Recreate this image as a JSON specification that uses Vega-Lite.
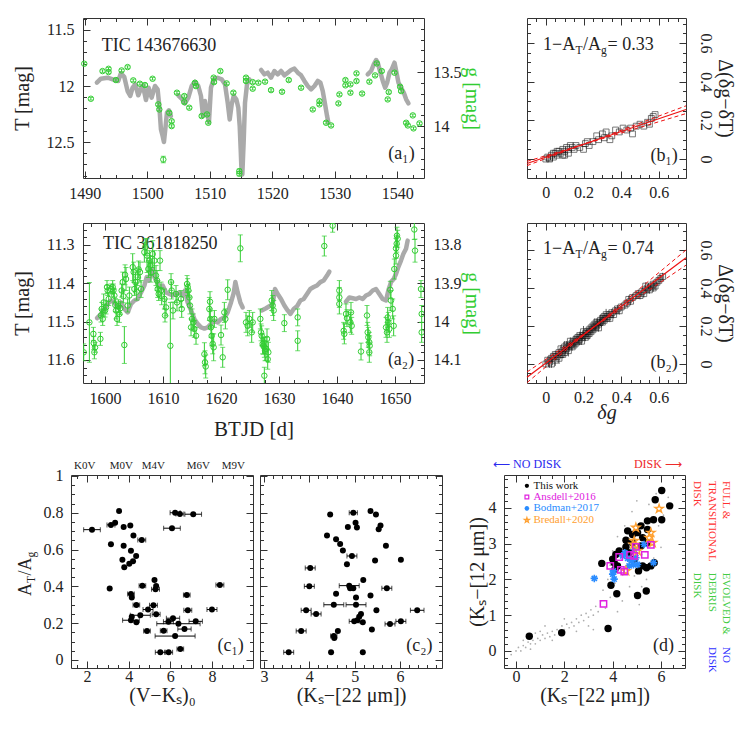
{
"$schema":"https://vega.github.io/schema/vega-lite/v6.json",
"padding":{"left":8,"top":17,"right":0,"bottom":0},
"spacing":1,
"datasets":{
"a1grey":[{"t":1491.92,"T":11.97,"s":1},{"t":1492.56,"T":11.935,"s":1},{"t":1493.63,"T":11.926,"s":1},{"t":1494.7,"T":11.946,"s":1},{"t":1495.34,"T":11.955,"s":1},{"t":1495.77,"T":11.887,"s":1},{"t":1496.3,"T":11.917,"s":1},{"t":1496.84,"T":12.045,"s":1},{"t":1497.27,"T":12.089,"s":1},{"t":1497.64,"T":12.015,"s":1},{"t":1498.07,"T":11.985,"s":1},{"t":1498.55,"T":12.083,"s":1},{"t":1498.97,"T":12.024,"s":1},{"t":1499.29,"T":11.994,"s":1},{"t":1499.78,"T":12.125,"s":1},{"t":1500.2,"T":12.015,"s":1},{"t":1500.69,"T":12.104,"s":1},{"t":1501.22,"T":12.0,"s":1},{"t":1501.65,"T":12.03,"s":1},{"t":1501.92,"T":12.179,"s":1},{"t":1502.18,"T":12.387,"s":1},{"t":1502.45,"T":12.446,"s":1},{"t":1502.66,"T":12.5,"s":1},{"t":1502.93,"T":12.357,"s":1},{"t":1503.14,"T":12.238,"s":1},{"t":1503.46,"T":12.217,"s":1},{"t":1503.78,"T":12.268,"s":1},
{"t":1504.96,"T":12.083,"s":2},{"t":1505.49,"T":12.113,"s":2},{"t":1506.03,"T":12.155,"s":2},{"t":1506.56,"T":12.104,"s":2},{"t":1507.1,"T":12.0,"s":2},{"t":1507.63,"T":11.964,"s":2},{"t":1508.16,"T":12.0,"s":2},{"t":1508.59,"T":12.089,"s":2},{"t":1508.91,"T":12.268,"s":2},{"t":1509.23,"T":12.134,"s":2},{"t":1509.55,"T":12.238,"s":2},{"t":1509.87,"T":12.321,"s":2},{"t":1510.19,"T":12.015,"s":2},{"t":1510.62,"T":11.94,"s":2},{"t":1511.26,"T":11.926,"s":2},{"t":1511.9,"T":11.94,"s":2},{"t":1512.44,"T":11.985,"s":2},{"t":1512.87,"T":12.149,"s":2},{"t":1513.19,"T":12.298,"s":2},{"t":1513.51,"T":12.163,"s":2},{"t":1513.83,"T":12.089,"s":2},{"t":1514.25,"T":12.119,"s":2},{"t":1514.57,"T":12.194,"s":2},{"t":1514.79,"T":12.357,"s":2},{"t":1514.95,"T":12.565,"s":2},{"t":1515.05,"T":12.714,"s":2},{"t":1515.21,"T":12.789,"s":2},{"t":1515.42,"T":12.506,"s":2},{"t":1515.64,"T":12.149,"s":2},{"t":1515.96,"T":11.985,"s":2},{"t":1516.33,"T":11.94,"s":2},
{"t":1518.21,"T":11.857,"s":3},{"t":1518.75,"T":11.896,"s":3},{"t":1519.28,"T":11.881,"s":3},{"t":1519.81,"T":11.926,"s":3},{"t":1520.35,"T":11.866,"s":3},{"t":1520.88,"T":11.896,"s":3},{"t":1521.41,"T":11.866,"s":3},{"t":1521.95,"T":11.905,"s":3},{"t":1522.48,"T":11.881,"s":3},{"t":1523.01,"T":11.857,"s":3},{"t":1523.55,"T":11.845,"s":3},{"t":1524.09,"T":11.881,"s":3},{"t":1524.62,"T":11.905,"s":3},{"t":1525.15,"T":11.955,"s":3},{"t":1525.69,"T":12.0,"s":3},{"t":1526.22,"T":12.03,"s":3},{"t":1526.76,"T":12.0,"s":3},{"t":1527.29,"T":11.955,"s":3},{"t":1527.71,"T":11.97,"s":3},{"t":1528.09,"T":12.045,"s":3},{"t":1528.46,"T":12.163,"s":3},{"t":1528.78,"T":12.268,"s":3},{"t":1528.99,"T":12.327,"s":3},
{"t":1535.29,"T":11.896,"s":4},{"t":1535.83,"T":11.866,"s":4},{"t":1536.26,"T":11.806,"s":4},{"t":1536.63,"T":11.768,"s":4},{"t":1536.89,"T":11.792,"s":4},{"t":1537.32,"T":11.881,"s":4},{"t":1537.7,"T":11.955,"s":4},{"t":1538.08,"T":12.015,"s":4},{"t":1538.4,"T":11.97,"s":4},{"t":1538.77,"T":11.881,"s":4},{"t":1539.14,"T":11.851,"s":4},{"t":1539.58,"T":11.792,"s":4},{"t":1539.9,"T":11.881,"s":4},{"t":1540.21,"T":11.97,"s":4},{"t":1540.64,"T":12.015,"s":4},{"t":1541.07,"T":12.06,"s":4},{"t":1541.44,"T":12.119,"s":4},{"t":1541.81,"T":12.155,"s":4}],
"a1green":[{"t":1489.9,"g":13.423,"e":0.012},{"t":1490.96,"g":13.747,"e":0.012},{"t":1492.83,"g":13.491,"e":0.012},{"t":1493.79,"g":13.47,"e":0.012},{"t":1493.79,"g":13.5,"e":0.012},{"t":1494.97,"g":13.574,"e":0.012},{"t":1495.88,"g":13.485,"e":0.012},{"t":1496.84,"g":13.454,"e":0.012},{"t":1497.75,"g":13.577,"e":0.012},{"t":1498.81,"g":13.608,"e":0.012},{"t":1499.62,"g":13.62,"e":0.012},{"t":1500.84,"g":13.562,"e":0.012},{"t":1501.75,"g":13.799,"e":0.012},{"t":1501.92,"g":13.846,"e":0.012},{"t":1502.56,"g":14.309,"e":0.03},{"t":1503.52,"g":13.877,"e":0.012},{"t":1503.89,"g":13.954,"e":0.012},{"t":1503.89,"g":14.0,"e":0.012},{"t":1504.74,"g":13.691,"e":0.012},{"t":1505.92,"g":13.722,"e":0.012},{"t":1505.92,"g":13.778,"e":0.012},{"t":1506.72,"g":13.83,"e":0.012},{"t":1507.63,"g":13.599,"e":0.012},{"t":1507.79,"g":13.63,"e":0.012},{"t":1508.7,"g":13.907,"e":0.012},{"t":1509.55,"g":13.892,"e":0.012},{"t":1509.76,"g":13.969,"e":0.012},{"t":1510.62,"g":13.552,"e":0.012},{"t":1510.68,"g":13.593,"e":0.012},{"t":1511.69,"g":13.491,"e":0.012},{"t":1512.7,"g":13.605,"e":0.012},{"t":1513.78,"g":13.691,"e":0.012},{"t":1514.73,"g":14.417,"e":0.02},{"t":1514.73,"g":14.44,"e":0.02},{"t":1515.8,"g":13.552,"e":0.012},{"t":1515.8,"g":13.583,"e":0.012},{"t":1516.87,"g":13.593,"e":0.012},{"t":1516.87,"g":13.654,"e":0.012},{"t":1517.78,"g":13.599,"e":0.012},{"t":1518.85,"g":13.589,"e":0.012},{"t":1519.81,"g":13.667,"e":0.012},{"t":1521.57,"g":13.682,"e":0.012},{"t":1522.64,"g":13.574,"e":0.012},{"t":1524.62,"g":13.645,"e":0.012},{"t":1526.49,"g":13.846,"e":0.012},{"t":1527.56,"g":13.769,"e":0.012},{"t":1527.56,"g":13.799,"e":0.012},{"t":1528.62,"g":13.969,"e":0.012},{"t":1529.42,"g":13.994,"e":0.012},{"t":1530.6,"g":13.79,"e":0.012},{"t":1530.76,"g":13.707,"e":0.012},{"t":1531.72,"g":13.574,"e":0.012},{"t":1531.72,"g":13.623,"e":0.012},{"t":1532.52,"g":13.614,"e":0.012},{"t":1532.52,"g":13.691,"e":0.012},{"t":1533.49,"g":13.512,"e":0.012},{"t":1533.49,"g":13.583,"e":0.012},{"t":1534.39,"g":13.699,"e":0.012},{"t":1535.56,"g":13.589,"e":0.012},{"t":1536.47,"g":13.531,"e":0.012},{"t":1536.73,"g":13.42,"e":0.012},{"t":1537.53,"g":13.491,"e":0.012},{"t":1538.49,"g":13.753,"e":0.012},{"t":1538.65,"g":13.685,"e":0.012},{"t":1539.58,"g":13.506,"e":0.012},{"t":1540.48,"g":13.636,"e":0.012},{"t":1540.64,"g":13.676,"e":0.012},{"t":1541.44,"g":13.969,"e":0.012},{"t":1541.71,"g":13.994,"e":0.012},{"t":1542.51,"g":13.901,"e":0.012},{"t":1542.62,"g":14.021,"e":0.012},{"t":1543.58,"g":13.975,"e":0.012}],
"a2grey":[{"t":1598.62,"T":11.491,"s":1},{"t":1599.31,"T":11.48,"s":1},{"t":1599.89,"T":11.467,"s":1},{"t":1600.46,"T":11.454,"s":1},{"t":1601.03,"T":11.445,"s":1},{"t":1601.61,"T":11.45,"s":1},{"t":1602.18,"T":11.463,"s":1},{"t":1602.76,"T":11.45,"s":1},{"t":1603.33,"T":11.467,"s":1},{"t":1603.91,"T":11.476,"s":1},{"t":1604.48,"T":11.454,"s":1},{"t":1605.06,"T":11.445,"s":1},{"t":1605.63,"T":11.441,"s":1},{"t":1606.21,"T":11.424,"s":1},{"t":1606.78,"T":11.406,"s":1},{"t":1607.18,"T":11.384,"s":1},{"t":1607.53,"T":11.393,"s":1},{"t":1607.93,"T":11.371,"s":1},{"t":1608.22,"T":11.363,"s":1},{"t":1608.51,"T":11.384,"s":1},{"t":1608.97,"T":11.397,"s":1},{"t":1609.37,"T":11.41,"s":1},{"t":1609.94,"T":11.406,"s":1},{"t":1610.52,"T":11.424,"s":1},{"t":1611.09,"T":11.428,"s":1},{"t":1611.67,"T":11.432,"s":1},{"t":1612.24,"T":11.428,"s":1},{"t":1612.82,"T":11.424,"s":1},{"t":1613.39,"T":11.432,"s":1},{"t":1613.79,"T":11.419,"s":1},{"t":1614.25,"T":11.45,"s":1},{"t":1614.83,"T":11.471,"s":1},{"t":1615.4,"T":11.493,"s":1},{"t":1615.98,"T":11.506,"s":1},{"t":1616.55,"T":11.515,"s":1},{"t":1617.13,"T":11.518,"s":1},{"t":1617.7,"T":11.515,"s":1},{"t":1618.28,"T":11.506,"s":1},{"t":1618.85,"T":11.498,"s":1},{"t":1619.43,"T":11.502,"s":1},{"t":1620.0,"T":11.493,"s":1},{"t":1620.57,"T":11.489,"s":1},{"t":1621.15,"T":11.476,"s":1},{"t":1621.72,"T":11.45,"s":1},{"t":1622.18,"T":11.426,"s":1},{"t":1622.47,"T":11.397,"s":1},{"t":1622.87,"T":11.424,"s":1},{"t":1623.33,"T":11.45,"s":1},{"t":1623.74,"T":11.463,"s":1},
{"t":1627.01,"T":11.471,"s":2},{"t":1627.76,"T":11.465,"s":2},{"t":1628.33,"T":11.46,"s":2},{"t":1628.91,"T":11.454,"s":2},{"t":1629.31,"T":11.415,"s":2},{"t":1629.77,"T":11.428,"s":2},{"t":1630.34,"T":11.441,"s":2},{"t":1630.92,"T":11.458,"s":2},{"t":1631.49,"T":11.471,"s":2},{"t":1631.95,"T":11.48,"s":2},{"t":1632.53,"T":11.467,"s":2},{"t":1633.1,"T":11.46,"s":2},{"t":1633.67,"T":11.445,"s":2},{"t":1634.25,"T":11.441,"s":2},{"t":1634.83,"T":11.428,"s":2},{"t":1635.4,"T":11.415,"s":2},{"t":1635.98,"T":11.41,"s":2},{"t":1636.55,"T":11.406,"s":2},{"t":1637.13,"T":11.397,"s":2},{"t":1637.7,"T":11.393,"s":2},{"t":1638.28,"T":11.38,"s":2},{"t":1638.68,"T":11.37,"s":2},
{"t":1641.55,"T":11.448,"s":3},{"t":1642.13,"T":11.437,"s":3},{"t":1642.71,"T":11.439,"s":3},{"t":1643.28,"T":11.441,"s":3},{"t":1643.85,"T":11.437,"s":3},{"t":1644.43,"T":11.441,"s":3},{"t":1645.0,"T":11.432,"s":3},{"t":1645.57,"T":11.428,"s":3},{"t":1646.15,"T":11.419,"s":3},{"t":1646.72,"T":11.415,"s":3},{"t":1647.3,"T":11.428,"s":3},{"t":1647.87,"T":11.441,"s":3},{"t":1648.45,"T":11.445,"s":3},{"t":1648.85,"T":11.419,"s":3},{"t":1649.31,"T":11.397,"s":3},{"t":1649.77,"T":11.389,"s":3},{"t":1650.17,"T":11.376,"s":3},{"t":1650.57,"T":11.358,"s":3},{"t":1651.03,"T":11.341,"s":3},{"t":1651.43,"T":11.324,"s":3},{"t":1651.9,"T":11.31,"s":3},{"t":1652.18,"T":11.289,"s":3}],
"a2green":[{"t":1596.32,"g":14.08,"e":0.022},{"t":1597.3,"g":14.002,"e":0.104},{"t":1597.99,"g":14.032,"e":0.017},{"t":1598.05,"g":14.056,"e":0.017},{"t":1598.16,"g":14.08,"e":0.017},{"t":1598.28,"g":14.067,"e":0.013},{"t":1599.2,"g":14.045,"e":0.017},{"t":1599.31,"g":13.984,"e":0.017},{"t":1599.43,"g":13.967,"e":0.017},{"t":1599.6,"g":13.993,"e":0.017},{"t":1599.77,"g":13.95,"e":0.022},{"t":1600.0,"g":13.971,"e":0.017},{"t":1600.17,"g":13.963,"e":0.017},{"t":1600.34,"g":13.91,"e":0.017},{"t":1600.46,"g":13.919,"e":0.013},{"t":1600.63,"g":13.941,"e":0.017},{"t":1601.03,"g":13.915,"e":0.013},{"t":1601.32,"g":13.91,"e":0.017},{"t":1601.44,"g":13.919,"e":0.017},{"t":1601.61,"g":13.932,"e":0.017},{"t":1601.78,"g":13.957,"e":0.017},{"t":1601.9,"g":13.971,"e":0.022},{"t":1602.07,"g":13.993,"e":0.017},{"t":1602.3,"g":13.96,"e":0.017},{"t":1602.47,"g":13.98,"e":0.022},{"t":1602.64,"g":13.965,"e":0.017},{"t":1602.87,"g":13.919,"e":0.017},{"t":1603.05,"g":13.897,"e":0.026},{"t":1603.16,"g":13.934,"e":0.017},{"t":1603.33,"g":14.061,"e":0.048},{"t":1603.45,"g":13.878,"e":0.026},{"t":1603.62,"g":13.889,"e":0.03},{"t":1603.91,"g":13.958,"e":0.017},{"t":1604.2,"g":13.932,"e":0.022},{"t":1604.77,"g":13.858,"e":0.035},{"t":1604.94,"g":13.871,"e":0.026},{"t":1605.06,"g":13.915,"e":0.017},{"t":1605.23,"g":13.897,"e":0.026},{"t":1605.46,"g":13.922,"e":0.022},{"t":1605.63,"g":13.884,"e":0.022},{"t":1605.8,"g":13.864,"e":0.022},{"t":1606.03,"g":13.871,"e":0.026},{"t":1606.21,"g":13.915,"e":0.022},{"t":1606.78,"g":13.819,"e":0.026},{"t":1606.95,"g":13.806,"e":0.022},{"t":1607.24,"g":13.828,"e":0.044},{"t":1607.47,"g":13.863,"e":0.022},{"t":1607.64,"g":13.841,"e":0.026},{"t":1607.82,"g":13.854,"e":0.026},{"t":1607.93,"g":13.871,"e":0.026},{"t":1608.22,"g":13.824,"e":0.035},{"t":1608.51,"g":13.841,"e":0.026},{"t":1608.79,"g":13.88,"e":0.026},{"t":1608.97,"g":13.893,"e":0.026},{"t":1609.08,"g":13.915,"e":0.022},{"t":1609.25,"g":13.928,"e":0.017},{"t":1609.48,"g":13.841,"e":0.026},{"t":1609.65,"g":13.919,"e":0.022},{"t":1609.77,"g":13.934,"e":0.022},{"t":1610.23,"g":13.941,"e":0.026},{"t":1610.34,"g":13.984,"e":0.017},{"t":1610.52,"g":13.963,"e":0.022},{"t":1611.26,"g":14.063,"e":0.113},{"t":1611.38,"g":13.897,"e":0.022},{"t":1611.49,"g":13.919,"e":0.022},{"t":1611.72,"g":13.971,"e":0.022},{"t":1612.24,"g":13.928,"e":0.022},{"t":1612.41,"g":13.95,"e":0.022},{"t":1613.1,"g":13.941,"e":0.022},{"t":1613.22,"g":13.967,"e":0.022},{"t":1614.14,"g":13.902,"e":0.022},{"t":1614.25,"g":13.91,"e":0.022},{"t":1614.37,"g":13.919,"e":0.017},{"t":1614.54,"g":13.937,"e":0.017},{"t":1614.65,"g":13.958,"e":0.022},{"t":1614.83,"g":14.015,"e":0.022},{"t":1615.0,"g":13.993,"e":0.026},{"t":1615.23,"g":14.002,"e":0.022},{"t":1615.4,"g":14.019,"e":0.022},{"t":1615.69,"g":14.037,"e":0.022},{"t":1617.13,"g":14.085,"e":0.03},{"t":1617.24,"g":14.106,"e":0.03},{"t":1617.36,"g":14.117,"e":0.03},{"t":1617.99,"g":13.967,"e":0.03},{"t":1618.1,"g":13.948,"e":0.026},{"t":1618.16,"g":13.993,"e":0.026},{"t":1618.27,"g":14.015,"e":0.026},{"t":1618.39,"g":14.037,"e":0.026},{"t":1618.56,"g":14.058,"e":0.026},{"t":1618.73,"g":14.067,"e":0.035},{"t":1618.85,"g":13.993,"e":0.022},{"t":1620.0,"g":14.035,"e":0.026},{"t":1620.29,"g":14.093,"e":0.026},{"t":1620.57,"g":13.976,"e":0.026},{"t":1620.75,"g":13.993,"e":0.026},{"t":1621.15,"g":13.917,"e":0.026},{"t":1623.33,"g":13.809,"e":0.035},{"t":1624.31,"g":14.002,"e":0.026},{"t":1624.6,"g":14.011,"e":0.026},{"t":1624.88,"g":13.993,"e":0.022},{"t":1625.29,"g":14.028,"e":0.026},{"t":1625.46,"g":14.002,"e":0.026},{"t":1626.78,"g":13.993,"e":0.026},{"t":1626.9,"g":14.028,"e":0.022},{"t":1627.01,"g":14.037,"e":0.026},{"t":1627.18,"g":14.058,"e":0.026},{"t":1627.3,"g":14.063,"e":0.022},{"t":1627.47,"g":14.067,"e":0.026},{"t":1627.59,"g":14.076,"e":0.026},{"t":1627.76,"g":14.071,"e":0.03},{"t":1627.93,"g":14.045,"e":0.026},{"t":1628.05,"g":14.098,"e":0.026},{"t":1628.16,"g":14.08,"e":0.026},{"t":1627.47,"g":14.141,"e":0.022},{"t":1628.74,"g":13.945,"e":0.026},{"t":1628.91,"g":13.958,"e":0.026},{"t":1629.08,"g":13.971,"e":0.026},{"t":1630.92,"g":14.004,"e":0.022},{"t":1633.22,"g":14.05,"e":0.026},{"t":1633.22,"g":13.989,"e":0.022},{"t":1637.81,"g":13.803,"e":0.026},{"t":1639.25,"g":13.75,"e":0.017},{"t":1640.4,"g":13.919,"e":0.026},{"t":1640.4,"g":13.937,"e":0.026},{"t":1640.4,"g":13.954,"e":0.026},{"t":1641.15,"g":14.024,"e":0.022},{"t":1641.26,"g":14.032,"e":0.026},{"t":1641.55,"g":13.98,"e":0.026},{"t":1641.72,"g":13.991,"e":0.022},{"t":1642.3,"g":14.002,"e":0.026},{"t":1642.41,"g":13.976,"e":0.026},{"t":1642.53,"g":14.011,"e":0.022},{"t":1644.14,"g":14.078,"e":0.022},{"t":1645.17,"g":13.984,"e":0.026},{"t":1645.29,"g":14.028,"e":0.026},{"t":1645.4,"g":14.041,"e":0.026},{"t":1645.57,"g":14.054,"e":0.026},{"t":1645.63,"g":14.063,"e":0.026},{"t":1645.57,"g":14.08,"e":0.026},{"t":1648.45,"g":14.015,"e":0.026},{"t":1648.62,"g":14.028,"e":0.026},{"t":1648.74,"g":13.989,"e":0.026},{"t":1648.85,"g":14.002,"e":0.026},{"t":1649.02,"g":14.019,"e":0.022},{"t":1649.19,"g":13.917,"e":0.022},{"t":1649.31,"g":13.945,"e":0.026},{"t":1649.6,"g":13.967,"e":0.026},{"t":1649.77,"g":14.011,"e":0.026},{"t":1649.88,"g":13.863,"e":0.026},{"t":1650.17,"g":13.809,"e":0.026},{"t":1650.29,"g":13.797,"e":0.022},{"t":1650.34,"g":13.776,"e":0.022},{"t":1650.46,"g":13.784,"e":0.022},{"t":1650.17,"g":13.828,"e":0.022},{"t":1653.33,"g":13.76,"e":0.026},{"t":1653.45,"g":13.815,"e":0.03},{"t":1654.48,"g":13.915,"e":0.022},{"t":1654.6,"g":13.98,"e":0.022},{"t":1654.6,"g":14.028,"e":0.026}],
"b1pts":[{"x":0.0,"y":0.0},{"x":0.01,"y":0.01},{"x":0.02,"y":0.005},{"x":0.03,"y":0.02},{"x":0.04,"y":0.01},{"x":0.05,"y":0.03},{"x":0.06,"y":0.02},{"x":0.07,"y":0.04},{"x":0.08,"y":0.03},{"x":0.09,"y":0.05},{"x":0.1,"y":0.04},{"x":0.11,"y":0.06},{"x":0.12,"y":0.05},{"x":0.13,"y":0.07},{"x":0.14,"y":0.06},{"x":0.1,"y":0.02},{"x":0.06,"y":0.04},{"x":0.12,"y":0.03},{"x":0.15,"y":0.05},{"x":0.18,"y":0.06},{"x":0.2,"y":0.05},{"x":0.21,"y":0.08},{"x":0.23,"y":0.07},{"x":0.25,"y":0.09},{"x":0.27,"y":0.12},{"x":0.28,"y":0.1},{"x":0.3,"y":0.13},{"x":0.31,"y":0.11},{"x":0.32,"y":0.14},{"x":0.35,"y":0.12},{"x":0.37,"y":0.15},{"x":0.39,"y":0.14},{"x":0.41,"y":0.16},{"x":0.43,"y":0.15},{"x":0.45,"y":0.16},{"x":0.48,"y":0.17},{"x":0.5,"y":0.18},{"x":0.52,"y":0.17},{"x":0.54,"y":0.19},{"x":0.56,"y":0.21},{"x":0.57,"y":0.22},{"x":0.58,"y":0.23},{"x":0.55,"y":0.18},{"x":0.46,"y":0.13},{"x":0.34,"y":0.1},{"x":0.22,"y":0.09},{"x":0.16,"y":0.07},{"x":0.04,"y":0.03},{"x":0.02,"y":0.0},{"x":0.09,"y":0.02}],
"b1lines":[{"x":-0.1,"y":-0.034,"k":"u"},{"x":0.744,"y":0.275,"k":"u"},{"x":-0.1,"y":-0.012,"k":"l"},{"x":0.744,"y":0.235,"k":"l"}],
"b2pts":[{"x":0.0,"y":0.0,"e":0.02},{"x":0.01,"y":0.02,"e":0.02},{"x":0.02,"y":0.01,"e":0.03},{"x":0.03,"y":0.03,"e":0.02},{"x":0.03,"y":0.0,"e":0.02},{"x":0.04,"y":0.04,"e":0.02},{"x":0.05,"y":0.02,"e":0.03},{"x":0.05,"y":0.05,"e":0.02},{"x":0.06,"y":0.04,"e":0.02},{"x":0.07,"y":0.06,"e":0.02},{"x":0.07,"y":0.03,"e":0.03},{"x":0.08,"y":0.05,"e":0.02},{"x":0.08,"y":0.08,"e":0.02},{"x":0.09,"y":0.07,"e":0.02},{"x":0.09,"y":0.05,"e":0.02},{"x":0.1,"y":0.09,"e":0.03},{"x":0.1,"y":0.06,"e":0.02},{"x":0.11,"y":0.08,"e":0.02},{"x":0.11,"y":0.1,"e":0.02},{"x":0.12,"y":0.09,"e":0.02},{"x":0.12,"y":0.07,"e":0.03},{"x":0.13,"y":0.1,"e":0.02},{"x":0.13,"y":0.12,"e":0.02},{"x":0.14,"y":0.11,"e":0.02},{"x":0.14,"y":0.09,"e":0.02},{"x":0.15,"y":0.12,"e":0.03},{"x":0.15,"y":0.1,"e":0.02},{"x":0.16,"y":0.13,"e":0.02},{"x":0.16,"y":0.11,"e":0.02},{"x":0.17,"y":0.12,"e":0.02},{"x":0.17,"y":0.14,"e":0.02},{"x":0.18,"y":0.13,"e":0.03},{"x":0.18,"y":0.15,"e":0.02},{"x":0.19,"y":0.14,"e":0.02},{"x":0.19,"y":0.12,"e":0.02},{"x":0.2,"y":0.15,"e":0.02},{"x":0.2,"y":0.17,"e":0.03},{"x":0.21,"y":0.16,"e":0.02},{"x":0.21,"y":0.14,"e":0.02},{"x":0.22,"y":0.17,"e":0.02},{"x":0.22,"y":0.15,"e":0.02},{"x":0.23,"y":0.18,"e":0.02},{"x":0.23,"y":0.16,"e":0.03},{"x":0.24,"y":0.19,"e":0.02},{"x":0.24,"y":0.17,"e":0.02},{"x":0.25,"y":0.18,"e":0.02},{"x":0.25,"y":0.2,"e":0.02},{"x":0.26,"y":0.19,"e":0.02},{"x":0.26,"y":0.21,"e":0.03},{"x":0.27,"y":0.2,"e":0.02},{"x":0.27,"y":0.22,"e":0.02},{"x":0.28,"y":0.21,"e":0.02},{"x":0.28,"y":0.19,"e":0.02},{"x":0.29,"y":0.22,"e":0.02},{"x":0.29,"y":0.23,"e":0.03},{"x":0.3,"y":0.22,"e":0.02},{"x":0.3,"y":0.24,"e":0.02},{"x":0.31,"y":0.23,"e":0.02},{"x":0.31,"y":0.25,"e":0.02},{"x":0.32,"y":0.24,"e":0.02},{"x":0.32,"y":0.26,"e":0.03},{"x":0.33,"y":0.25,"e":0.02},{"x":0.34,"y":0.26,"e":0.02},{"x":0.34,"y":0.24,"e":0.02},{"x":0.35,"y":0.27,"e":0.02},{"x":0.36,"y":0.26,"e":0.02},{"x":0.37,"y":0.28,"e":0.02},{"x":0.38,"y":0.29,"e":0.02},{"x":0.39,"y":0.28,"e":0.02},{"x":0.4,"y":0.3,"e":0.02},{"x":0.42,"y":0.31,"e":0.02},{"x":0.43,"y":0.32,"e":0.02},{"x":0.45,"y":0.33,"e":0.02},{"x":0.46,"y":0.35,"e":0.02},{"x":0.48,"y":0.36,"e":0.02},{"x":0.5,"y":0.36,"e":0.02},{"x":0.51,"y":0.38,"e":0.02},{"x":0.52,"y":0.37,"e":0.02},{"x":0.53,"y":0.39,"e":0.02},{"x":0.54,"y":0.4,"e":0.02},{"x":0.55,"y":0.39,"e":0.02},{"x":0.56,"y":0.41,"e":0.02},{"x":0.57,"y":0.42,"e":0.02},{"x":0.58,"y":0.41,"e":0.02},{"x":0.59,"y":0.43,"e":0.02},{"x":0.6,"y":0.44,"e":0.02},{"x":0.61,"y":0.45,"e":0.02},{"x":0.62,"y":0.46,"e":0.02},{"x":0.53,"y":0.41,"e":0.02},{"x":0.57,"y":0.4,"e":0.02},{"x":0.49,"y":0.37,"e":0.02},{"x":0.44,"y":0.34,"e":0.02}],
"b2lines":[{"x":-0.1,"y":-0.098,"k":"u"},{"x":0.744,"y":0.6,"k":"u"},{"x":-0.1,"y":-0.042,"k":"l"},{"x":0.744,"y":0.52,"k":"l"}],
"c1pts":[{"x":2.24,"y":0.708,"e":0.4},{"x":3.54,"y":0.81,"e":0},{"x":3.15,"y":0.734,"e":0.19},{"x":3.35,"y":0.745,"e":0},{"x":3.76,"y":0.723,"e":0},{"x":4.08,"y":0.73,"e":0},{"x":4.23,"y":0.676,"e":0},{"x":4.63,"y":0.652,"e":0.19},{"x":3.15,"y":0.629,"e":0},{"x":3.76,"y":0.621,"e":0},{"x":4.11,"y":0.594,"e":0},{"x":4.36,"y":0.565,"e":0},{"x":3.7,"y":0.545,"e":0},{"x":4.03,"y":0.523,"e":0},{"x":4.21,"y":0.536,"e":0},{"x":3.79,"y":0.504,"e":0},{"x":3.09,"y":0.388,"e":0},{"x":4.66,"y":0.404,"e":0.16},{"x":5.24,"y":0.435,"e":0},{"x":5.29,"y":0.384,"e":0.19},{"x":5.32,"y":0.402,"e":0},{"x":4.11,"y":0.359,"e":0.16},{"x":4.15,"y":0.339,"e":0},{"x":4.37,"y":0.299,"e":0.16},{"x":4.93,"y":0.274,"e":0.24},{"x":5.19,"y":0.297,"e":0.19},{"x":5.32,"y":0.248,"e":0.19},{"x":4.56,"y":0.243,"e":0.48},{"x":4.15,"y":0.235,"e":0},{"x":4.11,"y":0.216,"e":0.4},{"x":4.37,"y":0.205,"e":0},{"x":4.88,"y":0.158,"e":0.16},{"x":5.68,"y":0.159,"e":0.16},{"x":5.91,"y":0.208,"e":0.24},{"x":6.13,"y":0.227,"e":0.32},{"x":6.23,"y":0.13,"e":0.96},{"x":6.39,"y":0.197,"e":1.04},{"x":6.68,"y":0.168,"e":0.32},{"x":6.79,"y":0.353,"e":0.16},{"x":6.84,"y":0.27,"e":0.19},{"x":7.22,"y":0.21,"e":0.32},{"x":5.52,"y":0.042,"e":0.24},{"x":5.92,"y":0.042,"e":0.19},{"x":6.48,"y":0.06,"e":0.16},{"x":6.23,"y":0.8,"e":0.24},{"x":6.46,"y":0.793,"e":0.19},{"x":7.1,"y":0.792,"e":0.4},{"x":6.08,"y":0.716,"e":0.4},{"x":8.0,"y":0.274,"e":0.24},{"x":8.38,"y":0.408,"e":0.19}],
"c2pts":[{"x":3.545,"y":0.042,"e":0.11},{"x":3.82,"y":0.158,"e":0.11},{"x":3.93,"y":0.27,"e":0.11},{"x":4.02,"y":0.5,"e":0.11},{"x":4.0,"y":0.4,"e":0.11},{"x":4.15,"y":0.25,"e":0.11},{"x":4.39,"y":0.676,"e":0},{"x":4.46,"y":0.79,"e":0},{"x":4.48,"y":0.042,"e":0},{"x":4.54,"y":0.13,"e":0.07},{"x":4.55,"y":0.12,"e":0},{"x":4.59,"y":0.656,"e":0},{"x":4.59,"y":0.36,"e":0},{"x":4.54,"y":0.3,"e":0.22},{"x":4.63,"y":0.158,"e":0},{"x":4.68,"y":0.63,"e":0},{"x":4.74,"y":0.595,"e":0},{"x":4.83,"y":0.52,"e":0},{"x":4.85,"y":0.722,"e":0},{"x":4.88,"y":0.404,"e":0.22},{"x":4.9,"y":0.39,"e":0},{"x":4.94,"y":0.565,"e":0.11},{"x":4.97,"y":0.8,"e":0.09},{"x":4.97,"y":0.39,"e":0},{"x":4.99,"y":0.21,"e":0.11},{"x":5.02,"y":0.745,"e":0},{"x":5.03,"y":0.34,"e":0},{"x":5.03,"y":0.3,"e":0.22},{"x":5.05,"y":0.72,"e":0},{"x":5.06,"y":0.216,"e":0},{"x":5.1,"y":0.235,"e":0},{"x":5.14,"y":0.25,"e":0},{"x":5.18,"y":0.205,"e":0},{"x":5.19,"y":0.435,"e":0},{"x":5.18,"y":0.042,"e":0},{"x":5.35,"y":0.81,"e":0},{"x":5.35,"y":0.35,"e":0},{"x":5.38,"y":0.165,"e":0},{"x":5.45,"y":0.54,"e":0},{"x":5.47,"y":0.79,"e":0},{"x":5.48,"y":0.27,"e":0},{"x":5.53,"y":0.71,"e":0},{"x":5.57,"y":0.73,"e":0},{"x":5.69,"y":0.62,"e":0},{"x":5.71,"y":0.39,"e":0.11},{"x":5.78,"y":0.196,"e":0.11},{"x":6.02,"y":0.21,"e":0.11},{"x":6.02,"y":0.545,"e":0},{"x":6.38,"y":0.27,"e":0.15}],
"dgrey":[{"x":-0.2,"y":-0.1},{"x":0.0,"y":0.0},{"x":0.1,"y":0.1},{"x":0.2,"y":0.0},{"x":0.3,"y":0.15},{"x":0.4,"y":0.1},{"x":0.5,"y":0.25},{"x":0.6,"y":0.2},{"x":0.7,"y":0.3},{"x":0.8,"y":0.2},{"x":0.9,"y":0.35},{"x":1.0,"y":0.3},{"x":1.1,"y":0.45},{"x":1.2,"y":0.35},{"x":1.3,"y":0.5},{"x":1.4,"y":0.4},{"x":1.5,"y":0.55},{"x":1.6,"y":0.45},{"x":1.7,"y":0.6},{"x":1.8,"y":0.5},{"x":1.9,"y":0.7},{"x":2.0,"y":0.6},{"x":2.1,"y":0.75},{"x":2.2,"y":0.65},{"x":2.3,"y":0.8},{"x":2.4,"y":0.7},{"x":2.5,"y":0.9},{"x":2.6,"y":0.8},{"x":2.7,"y":1.0},{"x":2.8,"y":0.85},{"x":2.9,"y":1.05},{"x":3.0,"y":0.95},{"x":3.1,"y":1.15},{"x":3.2,"y":1.0},{"x":3.3,"y":1.25},{"x":3.4,"y":1.1},{"x":3.5,"y":1.4},{"x":0.3,"y":0.3},{"x":0.6,"y":0.05},{"x":1.0,"y":0.55},{"x":1.5,"y":0.3},{"x":2.0,"y":0.9},{"x":2.5,"y":0.55},{"x":3.0,"y":0.7},{"x":3.6,"y":1.7},{"x":3.7,"y":1.2},{"x":3.8,"y":2.0},{"x":3.9,"y":1.5},{"x":4.0,"y":2.8},{"x":4.1,"y":1.9},{"x":4.2,"y":3.2},{"x":4.3,"y":2.2},{"x":4.4,"y":1.4},{"x":4.5,"y":3.5},{"x":4.6,"y":2.6},{"x":4.7,"y":1.8},{"x":4.8,"y":3.9},{"x":4.9,"y":2.1},{"x":5.0,"y":3.0},{"x":5.1,"y":1.3},{"x":5.2,"y":2.7},{"x":5.3,"y":3.6},{"x":5.4,"y":2.0},{"x":5.5,"y":4.1},{"x":5.6,"y":3.2},{"x":5.7,"y":2.6},{"x":5.8,"y":4.4},{"x":5.9,"y":3.5},{"x":6.0,"y":2.9},{"x":6.1,"y":3.8},{"x":6.3,"y":4.3},{"x":4.4,"y":2.9},{"x":4.7,"y":3.3},{"x":5.2,"y":1.8},{"x":3.9,"y":2.4},{"x":4.2,"y":1.1},{"x":4.9,"y":1.6},{"x":5.5,"y":2.3},{"x":5.0,"y":4.2},{"x":3.2,"y":0.6},{"x":1.2,"y":0.7},{"x":0.8,"y":0.5}],
"dblack":[{"x":0.55,"y":0.41},{"x":1.89,"y":0.51},{"x":3.81,"y":0.63},{"x":3.55,"y":2.45},{"x":3.93,"y":1.84},{"x":4.17,"y":1.6},{"x":5.03,"y":1.55},{"x":5.39,"y":1.68},{"x":6.03,"y":4.49},{"x":6.36,"y":4.06},{"x":5.76,"y":4.23},{"x":6.03,"y":3.67},{"x":5.69,"y":3.67},{"x":5.44,"y":3.64},{"x":5.17,"y":3.5},{"x":5.44,"y":3.4},{"x":4.62,"y":3.36},{"x":4.82,"y":3.26},{"x":5.03,"y":3.31},{"x":5.24,"y":3.17},{"x":4.55,"y":3.1},{"x":5.44,"y":3.03},{"x":4.82,"y":3.03},{"x":4.55,"y":2.91},{"x":5.17,"y":2.94},{"x":4.27,"y":2.8},{"x":4.68,"y":2.75},{"x":4.13,"y":2.7},{"x":4.0,"y":2.57},{"x":4.06,"y":2.47},{"x":4.2,"y":2.38},{"x":4.1,"y":2.29},{"x":5.24,"y":2.38},{"x":5.4,"y":2.33},{"x":4.89,"y":2.57},{"x":5.58,"y":2.38},{"x":5.72,"y":2.47},{"x":5.07,"y":2.24}],
"dmag":[{"x":3.62,"y":1.32},{"x":3.9,"y":2.38},{"x":4.27,"y":2.63},{"x":4.34,"y":2.27},{"x":4.48,"y":2.22},{"x":4.72,"y":2.69},{"x":4.89,"y":2.66},{"x":5.33,"y":2.69},{"x":5.58,"y":2.97},{"x":4.96,"y":2.91}],
"dblue":[{"x":3.24,"y":2.03},{"x":4.0,"y":2.15},{"x":4.06,"y":2.01},{"x":4.03,"y":2.24},{"x":4.41,"y":2.66},{"x":4.62,"y":2.59},{"x":4.78,"y":2.52},{"x":4.86,"y":2.41},{"x":4.96,"y":2.61},{"x":5.03,"y":2.42},{"x":5.3,"y":2.98},{"x":5.69,"y":2.47},{"x":4.5,"y":2.75},{"x":4.89,"y":2.84},{"x":4.68,"y":2.38}],
"dorange":[{"x":5.92,"y":3.98},{"x":4.96,"y":3.45},{"x":5.58,"y":3.31},{"x":5.51,"y":3.17},{"x":5.65,"y":3.03},{"x":4.89,"y":3.08},{"x":5.03,"y":2.8},{"x":4.55,"y":2.24},{"x":4.86,"y":2.98}]
},
"vconcat":[
{"bounds":"flush","spacing":7,"hconcat":[
  {"width":5,"height":160,"data":{"values":[]},"mark":"point","view":{"stroke":null}},
   {"width":341,"height":160,
    "layer":[
     {"layer":[
       {"data":{"name":"a1grey"},"mark":{"type":"line","color":"#aaaaaa","strokeWidth":4.5,"strokeCap":"round","strokeJoin":"round","clip":true},
        "encoding":{"x":{"field":"t","type":"quantitative","scale":{"domain":[1489.7,1544.3],"nice":false,"zero":false},"axis":{"orient":"bottom","values":[1490,1500,1510,1520,1530,1540],"labelExpr":"datum.value + ''","labelPadding":14,"title":null}},
         "y":{"field":"T","type":"quantitative","scale":{"domain":[11.393,12.821],"reverse":true,"nice":false,"zero":false},"axis":{"orient":"left","values":[11.5,12,12.5],"labelExpr":"datum.value + ''","labelPadding":16,"title":"T [mag]","titlePadding":14}},
         "detail":{"field":"s"}}},
       {"data":{"values":[]},"mark":{"type":"point","opacity":0},
        "encoding":{"x":{"field":"t","type":"quantitative","scale":{"domain":[1489.7,1544.3],"nice":false,"zero":false},"axis":{"orient":"bottom","values":[1490,1492.5,1495,1497.5,1500,1502.5,1505,1507.5,1510,1512.5,1515,1517.5,1520,1522.5,1525,1527.5,1530,1532.5,1535,1537.5,1540,1542.5],"labels":false,"tickSize":-3.5,"title":null}},
         "y":{"field":"T","type":"quantitative","scale":{"domain":[11.393,12.821],"reverse":true,"nice":false,"zero":false},"axis":{"orient":"left","values":[11.4,11.5,11.6,11.7,11.8,11.9,12,12.1,12.2,12.3,12.4,12.5,12.6,12.7,12.8],"labels":false,"tickSize":-3.5,"title":null}}}},
       {"data":{"values":[]},"mark":{"type":"point","opacity":0},
        "encoding":{"x":{"field":"t","type":"quantitative","scale":{"domain":[1489.7,1544.3],"nice":false,"zero":false},"axis":{"orient":"top","values":[1490,1500,1510,1520,1530,1540],"labels":false,"title":null}},
         "y":{"field":"T","type":"quantitative","scale":{"domain":[11.393,12.821],"reverse":true,"nice":false,"zero":false},"axis":null}}},
       {"data":{"values":[]},"mark":{"type":"point","opacity":0},
        "encoding":{"x":{"field":"t","type":"quantitative","scale":{"domain":[1489.7,1544.3],"nice":false,"zero":false},"axis":{"orient":"top","values":[1490,1492.5,1495,1497.5,1500,1502.5,1505,1507.5,1510,1512.5,1515,1517.5,1520,1522.5,1525,1527.5,1530,1532.5,1535,1537.5,1540,1542.5],"labels":false,"tickSize":-3.5,"title":null}},
         "y":{"field":"T","type":"quantitative","scale":{"domain":[11.393,12.821],"reverse":true,"nice":false,"zero":false},"axis":null}}},
       {"data":{"values":[{"t":1492.7,"T":11.645}]},"mark":{"type":"text","text":"TIC 143676630","align":"left","baseline":"middle","fontSize":18,"color":"#222"},
        "encoding":{"x":{"field":"t","type":"quantitative","scale":{"domain":[1489.7,1544.3],"nice":false,"zero":false},"axis":null},"y":{"field":"T","type":"quantitative","scale":{"domain":[11.393,12.821],"reverse":true,"nice":false,"zero":false},"axis":null}}},
       {"data":{"values":[{"t":1477.85,"T":13.169}]},"mark":{"type":"text","text":" ","align":"center","baseline":"middle","fontSize":1},
        "encoding":{"x":{"field":"t","type":"quantitative","scale":{"domain":[1489.7,1544.3],"nice":false,"zero":false},"axis":null},"y":{"field":"T","type":"quantitative","scale":{"domain":[11.393,12.821],"reverse":true,"nice":false,"zero":false},"axis":null}}},
       {"data":{"values":[{"t":1542.8,"T":12.61}]},"mark":{"type":"text","text":"(a₁)","align":"right","baseline":"middle","fontSize":18,"color":"#222"},
        "encoding":{"x":{"field":"t","type":"quantitative","scale":{"domain":[1489.7,1544.3],"nice":false,"zero":false},"axis":null},"y":{"field":"T","type":"quantitative","scale":{"domain":[11.393,12.821],"reverse":true,"nice":false,"zero":false},"axis":null}}}
      ],"resolve":{"axis":{"x":"independent","y":"independent"}}},
     {"layer":[
       {"data":{"name":"a1green"},"mark":{"type":"errorbar","color":"#32cd32","ticks":true,"clip":true},
        "encoding":{"x":{"field":"t","type":"quantitative","scale":{"domain":[1489.7,1544.3],"nice":false,"zero":false},"axis":null},
         "y":{"field":"g","type":"quantitative","scale":{"domain":[13.0,14.48],"reverse":true,"nice":false,"zero":false},"axis":{"orient":"right","values":[13.5,14],"labelExpr":"datum.value + ''","labelPadding":16,"title":"g [mag]","titleColor":"#32cd32","titlePadding":0}},
         "yError":{"field":"e"}}},
       {"data":{"name":"a1green"},"mark":{"type":"point","shape":"circle","filled":false,"color":"#32cd32","size":30,"strokeWidth":1,"opacity":1},
        "encoding":{"x":{"field":"t","type":"quantitative","scale":{"domain":[1489.7,1544.3],"nice":false,"zero":false},"axis":null},
         "y":{"field":"g","type":"quantitative","scale":{"domain":[13.0,14.48],"reverse":true,"nice":false,"zero":false},"axis":{"orient":"right","values":[13.1,13.2,13.3,13.4,13.5,13.6,13.7,13.8,13.9,14,14.1,14.2,14.3,14.4],"labels":false,"tickSize":-3.5,"title":null}}}}
      ],"resolve":{"axis":{"x":"independent","y":"independent"}}}
    ],
    "resolve":{"scale":{"y":"independent"},"axis":{"x":"independent","y":"independent"}}},
  {"width":89,"height":160,"data":{"values":[]},"mark":"point","view":{"stroke":null}},
   {"width":159,"height":160,
    "layer":[
     {"data":{"values":[]},"mark":{"type":"point","opacity":0},
      "encoding":{"x":{"field":"x","type":"quantitative","scale":{"domain":[-0.1,0.744],"nice":false,"zero":false},"axis":{"orient":"top","values":[0,0.2,0.4,0.6],"labels":false,"title":null}},
       "y":{"field":"y","type":"quantitative","scale":{"domain":[-0.098,0.729],"nice":false,"zero":false},"axis":{"orient":"left","values":[0,0.2,0.4,0.6],"labels":false,"title":null}}}},
     {"data":{"values":[]},"mark":{"type":"point","opacity":0},
      "encoding":{"x":{"field":"x","type":"quantitative","scale":{"domain":[-0.1,0.744],"nice":false,"zero":false},"axis":{"orient":"top","values":[-0.05,0,0.05,0.1,0.15,0.2,0.25,0.3,0.35,0.4,0.45,0.5,0.55,0.6,0.65,0.7],"labels":false,"tickSize":-3.5,"title":null}},
       "y":{"field":"y","type":"quantitative","scale":{"domain":[-0.098,0.729],"nice":false,"zero":false},"axis":{"orient":"left","values":[-0.05,0,0.05,0.1,0.15,0.2,0.25,0.3,0.35,0.4,0.45,0.5,0.55,0.6,0.65,0.7],"labels":false,"tickSize":-3.5,"title":null}}}},
     {"data":{"name":"b1pts"},"mark":{"type":"square","filled":false,"color":"#111","size":34,"strokeWidth":0.8},
      "encoding":{"x":{"field":"x","type":"quantitative","scale":{"domain":[-0.1,0.744],"nice":false,"zero":false},"axis":{"orient":"bottom","values":[0,0.2,0.4,0.6],"labelExpr":"datum.value + ''","labelPadding":13,"title":null}},
       "y":{"field":"y","type":"quantitative","scale":{"domain":[-0.098,0.729],"nice":false,"zero":false},"axis":{"orient":"right","values":[0,0.2,0.4,0.6],"labelExpr":"datum.value + ''","labelPadding":18,"labelAngle":90,"labelAlign":"center","labelBaseline":"bottom","title":"Δ(δg−δT)","titlePadding":1}}}},
     {"data":{"name":"b1lines"},"mark":{"type":"line","color":"#ee1111","strokeWidth":1,"strokeDash":[4,3]},
      "encoding":{"x":{"field":"x","type":"quantitative","scale":{"domain":[-0.1,0.744],"nice":false,"zero":false},"axis":{"orient":"bottom","values":[-0.05,0,0.05,0.1,0.15,0.2,0.25,0.3,0.35,0.4,0.45,0.5,0.55,0.6,0.65,0.7],"labels":false,"tickSize":-3.5,"title":null}},
       "y":{"field":"y","type":"quantitative","scale":{"domain":[-0.098,0.729],"nice":false,"zero":false},"axis":{"orient":"right","values":[-0.05,0,0.05,0.1,0.15,0.2,0.25,0.3,0.35,0.4,0.45,0.5,0.55,0.6,0.65,0.7],"labels":false,"tickSize":-3.5,"title":null}},
       "detail":{"field":"k"}}},
     {"data":{"values":[{"x":-0.1,"y":-0.023},{"x":0.744,"y":0.256}]},"mark":{"type":"line","color":"#ee1111","strokeWidth":1.2},
      "encoding":{"x":{"field":"x","type":"quantitative","scale":{"domain":[-0.1,0.744],"nice":false,"zero":false},"axis":null},"y":{"field":"y","type":"quantitative","scale":{"domain":[-0.098,0.729],"nice":false,"zero":false},"axis":null}}},
     {"data":{"values":[{"x":-0.015,"y":0.5625}]},"layer":[
       {"mark":{"type":"text","text":"1−A","align":"left","baseline":"alphabetic","fontSize":18,"color":"#222"}},
       {"mark":{"type":"text","text":"T","align":"left","baseline":"alphabetic","fontSize":11.5,"dx":32.5,"dy":4,"color":"#222"}},
       {"mark":{"type":"text","text":"/A","align":"left","baseline":"alphabetic","fontSize":18,"dx":40,"color":"#222"}},
       {"mark":{"type":"text","text":"g","align":"left","baseline":"alphabetic","fontSize":11.5,"dx":58,"dy":4,"color":"#222"}},
       {"mark":{"type":"text","text":"=  0.33","align":"left","baseline":"alphabetic","fontSize":18,"dx":64.5,"color":"#222"}}],
      "encoding":{"x":{"field":"x","type":"quantitative","scale":{"domain":[-0.1,0.744],"nice":false,"zero":false},"axis":null},"y":{"field":"y","type":"quantitative","scale":{"domain":[-0.098,0.729],"nice":false,"zero":false},"axis":null}}},
     {"data":{"values":[{"x":0.70,"y":0.016}]},"mark":{"type":"text","text":"(b₁)","align":"right","baseline":"middle","fontSize":18,"color":"#222"},
      "encoding":{"x":{"field":"x","type":"quantitative","scale":{"domain":[-0.1,0.744],"nice":false,"zero":false},"axis":null},"y":{"field":"y","type":"quantitative","scale":{"domain":[-0.098,0.729],"nice":false,"zero":false},"axis":null}}}
    ],
    "resolve":{"axis":{"x":"independent","y":"independent"}}}
]},
{"bounds":"flush","spacing":7,"hconcat":[
  {"width":5,"height":160,"data":{"values":[]},"mark":"point","view":{"stroke":null}},
   {"width":341,"height":160,
    "layer":[
     {"layer":[
       {"data":{"name":"a2grey"},"mark":{"type":"line","color":"#aaaaaa","strokeWidth":4.5,"strokeCap":"round","strokeJoin":"round","clip":true},
        "encoding":{"x":{"field":"t","type":"quantitative","scale":{"domain":[1596.2,1655.0],"nice":false,"zero":false},"axis":{"orient":"bottom","values":[1600,1610,1620,1630,1640,1650],"labelExpr":"datum.value + ''","labelPadding":14,"title":"BTJD [d]","titleFontSize":21,"titlePadding":12}},
         "y":{"field":"T","type":"quantitative","scale":{"domain":[11.243,11.66],"reverse":true,"nice":false,"zero":false},"axis":{"orient":"left","values":[11.3,11.4,11.5,11.6],"labelExpr":"datum.value + ''","labelPadding":16,"title":"T [mag]","titlePadding":14}},
         "detail":{"field":"s"}}},
       {"data":{"values":[]},"mark":{"type":"point","opacity":0},
        "encoding":{"x":{"field":"t","type":"quantitative","scale":{"domain":[1596.2,1655.0],"nice":false,"zero":false},"axis":{"orient":"bottom","values":[1597.5,1600,1602.5,1605,1607.5,1610,1612.5,1615,1617.5,1620,1622.5,1625,1627.5,1630,1632.5,1635,1637.5,1640,1642.5,1645,1647.5,1650,1652.5],"labels":false,"tickSize":-3.5,"title":null}},
         "y":{"field":"T","type":"quantitative","scale":{"domain":[11.243,11.66],"reverse":true,"nice":false,"zero":false},"axis":{"orient":"left","values":[11.26,11.28,11.3,11.32,11.34,11.36,11.38,11.4,11.42,11.44,11.46,11.48,11.5,11.52,11.54,11.56,11.58,11.6,11.62,11.64],"labels":false,"tickSize":-3.5,"title":null}}}},
       {"data":{"values":[]},"mark":{"type":"point","opacity":0},
        "encoding":{"x":{"field":"t","type":"quantitative","scale":{"domain":[1596.2,1655.0],"nice":false,"zero":false},"axis":{"orient":"top","values":[1600,1610,1620,1630,1640,1650],"labels":false,"title":null}},
         "y":{"field":"T","type":"quantitative","scale":{"domain":[11.243,11.66],"reverse":true,"nice":false,"zero":false},"axis":null}}},
       {"data":{"values":[]},"mark":{"type":"point","opacity":0},
        "encoding":{"x":{"field":"t","type":"quantitative","scale":{"domain":[1596.2,1655.0],"nice":false,"zero":false},"axis":{"orient":"top","values":[1597.5,1600,1602.5,1605,1607.5,1610,1612.5,1615,1617.5,1620,1622.5,1625,1627.5,1630,1632.5,1635,1637.5,1640,1642.5,1645,1647.5,1650,1652.5],"labels":false,"tickSize":-3.5,"title":null}},
         "y":{"field":"T","type":"quantitative","scale":{"domain":[11.243,11.66],"reverse":true,"nice":false,"zero":false},"axis":null}}},
       {"data":{"values":[{"t":1599.66,"T":11.297}]},"mark":{"type":"text","text":"TIC 361818250","align":"left","baseline":"middle","fontSize":18,"color":"#222"},
        "encoding":{"x":{"field":"t","type":"quantitative","scale":{"domain":[1596.2,1655.0],"nice":false,"zero":false},"axis":null},"y":{"field":"T","type":"quantitative","scale":{"domain":[11.243,11.66],"reverse":true,"nice":false,"zero":false},"axis":null}}},
       {"data":{"values":[{"t":1583.44,"T":11.2378},{"t":1583.44,"T":11.8268}]},"mark":{"type":"text","text":" ","align":"center","baseline":"middle","fontSize":1},
        "encoding":{"x":{"field":"t","type":"quantitative","scale":{"domain":[1596.2,1655.0],"nice":false,"zero":false},"axis":null},"y":{"field":"T","type":"quantitative","scale":{"domain":[11.243,11.66],"reverse":true,"nice":false,"zero":false},"axis":null}}},
       {"data":{"values":[{"t":1653.3,"T":11.6}]},"mark":{"type":"text","text":"(a₂)","align":"right","baseline":"middle","fontSize":18,"color":"#222"},
        "encoding":{"x":{"field":"t","type":"quantitative","scale":{"domain":[1596.2,1655.0],"nice":false,"zero":false},"axis":null},"y":{"field":"T","type":"quantitative","scale":{"domain":[11.243,11.66],"reverse":true,"nice":false,"zero":false},"axis":null}}}
      ],"resolve":{"axis":{"x":"independent","y":"independent"}}},
     {"layer":[
       {"data":{"name":"a2green"},"mark":{"type":"errorbar","color":"#32cd32","ticks":true,"clip":true},
        "encoding":{"x":{"field":"t","type":"quantitative","scale":{"domain":[1596.2,1655.0],"nice":false,"zero":false},"axis":null},
         "y":{"field":"g","type":"quantitative","scale":{"domain":[13.743,14.16],"reverse":true,"nice":false,"zero":false},"axis":{"orient":"right","values":[13.8,13.9,14,14.1],"labelExpr":"datum.value + ''","labelPadding":16,"title":"g [mag]","titleColor":"#32cd32","titlePadding":0}},
         "yError":{"field":"e"}}},
       {"data":{"name":"a2green"},"mark":{"type":"point","shape":"circle","filled":false,"color":"#32cd32","size":30,"strokeWidth":1,"opacity":1,"clip":true},
        "encoding":{"x":{"field":"t","type":"quantitative","scale":{"domain":[1596.2,1655.0],"nice":false,"zero":false},"axis":null},
         "y":{"field":"g","type":"quantitative","scale":{"domain":[13.743,14.16],"reverse":true,"nice":false,"zero":false},"axis":{"orient":"right","values":[13.76,13.78,13.8,13.82,13.84,13.86,13.88,13.9,13.92,13.94,13.96,13.98,14,14.02,14.04,14.06,14.08,14.1,14.12,14.14],"labels":false,"tickSize":-3.5,"title":null}}}}
      ],"resolve":{"axis":{"x":"independent","y":"independent"}}}
    ],
    "resolve":{"scale":{"y":"independent"},"axis":{"x":"independent","y":"independent"}}},
  {"width":89,"height":160,"data":{"values":[]},"mark":"point","view":{"stroke":null}},
   {"width":159,"height":160,
    "layer":[
     {"data":{"values":[]},"mark":{"type":"point","opacity":0},
      "encoding":{"x":{"field":"x","type":"quantitative","scale":{"domain":[-0.1,0.744],"nice":false,"zero":false},"axis":{"orient":"top","values":[0,0.2,0.4,0.6],"labels":false,"title":null}},
       "y":{"field":"y","type":"quantitative","scale":{"domain":[-0.1,0.742],"nice":false,"zero":false},"axis":{"orient":"left","values":[0,0.2,0.4,0.6],"labels":false,"title":null}}}},
     {"data":{"values":[]},"mark":{"type":"point","opacity":0},
      "encoding":{"x":{"field":"x","type":"quantitative","scale":{"domain":[-0.1,0.744],"nice":false,"zero":false},"axis":{"orient":"top","values":[-0.05,0,0.05,0.1,0.15,0.2,0.25,0.3,0.35,0.4,0.45,0.5,0.55,0.6,0.65,0.7],"labels":false,"tickSize":-3.5,"title":null}},
       "y":{"field":"y","type":"quantitative","scale":{"domain":[-0.1,0.742],"nice":false,"zero":false},"axis":{"orient":"left","values":[-0.05,0,0.05,0.1,0.15,0.2,0.25,0.3,0.35,0.4,0.45,0.5,0.55,0.6,0.65,0.7],"labels":false,"tickSize":-3.5,"title":null}}}},
     {"data":{"name":"b2pts"},"mark":{"type":"errorbar","color":"#333","thickness":0.8},
      "encoding":{"x":{"field":"x","type":"quantitative","scale":{"domain":[-0.1,0.744],"nice":false,"zero":false},"axis":{"orient":"bottom","values":[-0.05,0,0.05,0.1,0.15,0.2,0.25,0.3,0.35,0.4,0.45,0.5,0.55,0.6,0.65,0.7],"labels":false,"tickSize":-3.5,"title":null}},
       "y":{"field":"y","type":"quantitative","scale":{"domain":[-0.1,0.742],"nice":false,"zero":false},"axis":{"orient":"right","values":[-0.05,0,0.05,0.1,0.15,0.2,0.25,0.3,0.35,0.4,0.45,0.5,0.55,0.6,0.65,0.7],"labels":false,"tickSize":-3.5,"title":null}},
       "yError":{"field":"e"}}},
     {"data":{"name":"b2pts"},"mark":{"type":"square","filled":false,"color":"#111","size":34,"strokeWidth":0.8},
      "encoding":{"x":{"field":"x","type":"quantitative","scale":{"domain":[-0.1,0.744],"nice":false,"zero":false},"axis":{"orient":"bottom","values":[0,0.2,0.4,0.6],"labelExpr":"datum.value + ''","labelPadding":13,"title":"δg","titleFontStyle":"italic","titlePadding":-3}},
       "y":{"field":"y","type":"quantitative","scale":{"domain":[-0.1,0.742],"nice":false,"zero":false},"axis":{"orient":"right","values":[0,0.2,0.4,0.6],"labelExpr":"datum.value + ''","labelPadding":18,"labelAngle":90,"labelAlign":"center","labelBaseline":"bottom","title":"Δ(δg−δT)","titlePadding":1}}}},
     {"data":{"name":"b2lines"},"mark":{"type":"line","color":"#ee1111","strokeWidth":1,"strokeDash":[4,3]},
      "encoding":{"x":{"field":"x","type":"quantitative","scale":{"domain":[-0.1,0.744],"nice":false,"zero":false},"axis":null},
       "y":{"field":"y","type":"quantitative","scale":{"domain":[-0.1,0.742],"nice":false,"zero":false},"axis":null},
       "detail":{"field":"k"}}},
     {"data":{"values":[{"x":-0.1,"y":-0.0695},{"x":0.744,"y":0.559}]},"mark":{"type":"line","color":"#ee1111","strokeWidth":1.2},
      "encoding":{"x":{"field":"x","type":"quantitative","scale":{"domain":[-0.1,0.744],"nice":false,"zero":false},"axis":null},"y":{"field":"y","type":"quantitative","scale":{"domain":[-0.1,0.742],"nice":false,"zero":false},"axis":null}}},
     {"data":{"values":[{"x":-0.015,"y":0.579}]},"layer":[
       {"mark":{"type":"text","text":"1−A","align":"left","baseline":"alphabetic","fontSize":18,"color":"#222"}},
       {"mark":{"type":"text","text":"T","align":"left","baseline":"alphabetic","fontSize":11.5,"dx":32.5,"dy":4,"color":"#222"}},
       {"mark":{"type":"text","text":"/A","align":"left","baseline":"alphabetic","fontSize":18,"dx":40,"color":"#222"}},
       {"mark":{"type":"text","text":"g","align":"left","baseline":"alphabetic","fontSize":11.5,"dx":58,"dy":4,"color":"#222"}},
       {"mark":{"type":"text","text":"=  0.74","align":"left","baseline":"alphabetic","fontSize":18,"dx":64.5,"color":"#222"}}],
      "encoding":{"x":{"field":"x","type":"quantitative","scale":{"domain":[-0.1,0.744],"nice":false,"zero":false},"axis":null},"y":{"field":"y","type":"quantitative","scale":{"domain":[-0.1,0.742],"nice":false,"zero":false},"axis":null}}},
     {"data":{"values":[{"x":0.70,"y":0.007}]},"mark":{"type":"text","text":"(b₂)","align":"right","baseline":"middle","fontSize":18,"color":"#222"},
      "encoding":{"x":{"field":"x","type":"quantitative","scale":{"domain":[-0.1,0.744],"nice":false,"zero":false},"axis":null},"y":{"field":"y","type":"quantitative","scale":{"domain":[-0.1,0.742],"nice":false,"zero":false},"axis":null}}}
    ],
    "resolve":{"axis":{"x":"independent","y":"independent"}}}
]},
{"bounds":"flush","spacing":7,"hconcat":[
  {"width":182,"height":193,
   "layer":[
    {"data":{"values":[]},"mark":{"type":"point","opacity":0},
     "encoding":{"x":{"field":"x","type":"quantitative","scale":{"domain":[1.232,9.97],"nice":false,"zero":false},"axis":{"orient":"top","values":[2,4,6,8],"labels":false,"title":null}},
      "y":{"field":"y","type":"quantitative","scale":{"domain":[-0.0435,1.005],"nice":false,"zero":false},"axis":{"orient":"right","values":[0,0.2,0.4,0.6,0.8,1],"labels":false,"title":null}}}},
    {"data":{"values":[]},"mark":{"type":"point","opacity":0},
     "encoding":{"x":{"field":"x","type":"quantitative","scale":{"domain":[1.232,9.97],"nice":false,"zero":false},"axis":{"orient":"top","values":[1.5,2,2.5,3,3.5,4,4.5,5,5.5,6,6.5,7,7.5,8,8.5,9,9.5],"labels":false,"tickSize":-3.5,"title":null}},
      "y":{"field":"y","type":"quantitative","scale":{"domain":[-0.0435,1.005],"nice":false,"zero":false},"axis":{"orient":"right","values":[0,0.05,0.1,0.15,0.2,0.25,0.3,0.35,0.4,0.45,0.5,0.55,0.6,0.65,0.7,0.75,0.8,0.85,0.9,0.95,1],"labels":false,"tickSize":-3.5,"title":null}}}},
    {"data":{"values":[]},"mark":{"type":"point","opacity":0},
     "encoding":{"x":{"field":"x","type":"quantitative","scale":{"domain":[1.232,9.97],"nice":false,"zero":false},"axis":{"orient":"top","values":[1.87,3.63,5.16,7.32,9.0],"labelExpr":"datum.value < 2.5 ? 'K0V' : datum.value < 4 ? 'M0V' : datum.value < 6 ? 'M4V' : datum.value < 8 ? 'M6V' : 'M9V'","ticks":false,"tickSize":0,"labelPadding":5,"labelFontSize":11,"title":null}},
      "y":{"field":"y","type":"quantitative","scale":{"domain":[-0.0435,1.005],"nice":false,"zero":false},"axis":null}}},
    {"data":{"name":"c1pts"},"transform":[{"filter":"datum.e > 0"}],"mark":{"type":"errorbar","color":"#000","ticks":true,"thickness":1},
     "encoding":{"x":{"field":"x","type":"quantitative","scale":{"domain":[1.232,9.97],"nice":false,"zero":false},"axis":{"orient":"bottom","values":[1.5,2,2.5,3,3.5,4,4.5,5,5.5,6,6.5,7,7.5,8,8.5,9,9.5],"labels":false,"tickSize":-3.5,"title":null}},
      "xError":{"field":"e"},
      "y":{"field":"y","type":"quantitative","scale":{"domain":[-0.0435,1.005],"nice":false,"zero":false},"axis":{"orient":"left","values":[0,0.05,0.1,0.15,0.2,0.25,0.3,0.35,0.4,0.45,0.5,0.55,0.6,0.65,0.7,0.75,0.8,0.85,0.9,0.95,1],"labels":false,"tickSize":-3.5,"title":null}}}},
    {"data":{"name":"c1pts"},"mark":{"type":"circle","color":"#000","size":36,"opacity":1},
     "encoding":{"x":{"field":"x","type":"quantitative","scale":{"domain":[1.232,9.97],"nice":false,"zero":false},"axis":{"orient":"bottom","values":[2,4,6,8],"labelExpr":"datum.value + ''","labelPadding":7,"title":"(V−Kₛ)₀","titlePadding":1}},
      "y":{"field":"y","type":"quantitative","scale":{"domain":[-0.0435,1.005],"nice":false,"zero":false},"axis":{"orient":"left","values":[0,0.2,0.4,0.6,0.8,1],"labelExpr":"datum.value + ''","labelPadding":15,"title":null}}}},
    {"data":{"values":[{"x":-0.69,"y":0.348}]},"layer":[
      {"mark":{"type":"text","text":"A","angle":270,"align":"left","baseline":"alphabetic","fontSize":18,"color":"#222"}},
      {"mark":{"type":"text","text":"T","angle":270,"align":"left","baseline":"alphabetic","fontSize":11.5,"dx":13,"dy":4,"color":"#222"}},
      {"mark":{"type":"text","text":"/A","angle":270,"align":"left","baseline":"alphabetic","fontSize":18,"dx":20.5,"color":"#222"}},
      {"mark":{"type":"text","text":"g","angle":270,"align":"left","baseline":"alphabetic","fontSize":11.5,"dx":38.5,"dy":4,"color":"#222"}}],
     "encoding":{"x":{"field":"x","type":"quantitative","scale":{"domain":[1.232,9.97],"nice":false,"zero":false},"axis":null},"y":{"field":"y","type":"quantitative","scale":{"domain":[-0.0435,1.005],"nice":false,"zero":false},"axis":null}}},
    {"data":{"values":[{"x":-1.696,"y":1.1354}]},"mark":{"type":"text","text":" ","align":"center","baseline":"middle","fontSize":1},
     "encoding":{"x":{"field":"x","type":"quantitative","scale":{"domain":[1.232,9.97],"nice":false,"zero":false},"axis":null},"y":{"field":"y","type":"quantitative","scale":{"domain":[-0.0435,1.005],"nice":false,"zero":false},"axis":null}}},
    {"data":{"values":[{"x":9.53,"y":0.076}]},"mark":{"type":"text","text":"(c₁)","align":"right","baseline":"middle","fontSize":18,"color":"#222"},
     "encoding":{"x":{"field":"x","type":"quantitative","scale":{"domain":[1.232,9.97],"nice":false,"zero":false},"axis":null},"y":{"field":"y","type":"quantitative","scale":{"domain":[-0.0435,1.005],"nice":false,"zero":false},"axis":null}}}
   ],
   "resolve":{"axis":{"x":"independent","y":"independent"}}},
  {"width":182,"height":193,
   "layer":[
    {"data":{"values":[]},"mark":{"type":"point","opacity":0},
     "encoding":{"x":{"field":"x","type":"quantitative","scale":{"domain":[2.912,6.927],"nice":false,"zero":false},"axis":{"orient":"top","values":[3,4,5,6],"labels":false,"title":null}},
      "y":{"field":"y","type":"quantitative","scale":{"domain":[-0.0435,1.005],"nice":false,"zero":false},"axis":{"orient":"right","values":[0,0.2,0.4,0.6,0.8,1],"labels":false,"title":null}}}},
    {"data":{"values":[]},"mark":{"type":"point","opacity":0},
     "encoding":{"x":{"field":"x","type":"quantitative","scale":{"domain":[2.912,6.927],"nice":false,"zero":false},"axis":{"orient":"top","values":[3,3.2,3.4,3.6,3.8,4,4.2,4.4,4.6,4.8,5,5.2,5.4,5.6,5.8,6,6.2,6.4,6.6,6.8],"labels":false,"tickSize":-3.5,"title":null}},
      "y":{"field":"y","type":"quantitative","scale":{"domain":[-0.0435,1.005],"nice":false,"zero":false},"axis":{"orient":"right","values":[0,0.05,0.1,0.15,0.2,0.25,0.3,0.35,0.4,0.45,0.5,0.55,0.6,0.65,0.7,0.75,0.8,0.85,0.9,0.95,1],"labels":false,"tickSize":-3.5,"title":null}}}},
    {"data":{"name":"c2pts"},"transform":[{"filter":"datum.e > 0"}],"mark":{"type":"errorbar","color":"#000","ticks":true,"thickness":1},
     "encoding":{"x":{"field":"x","type":"quantitative","scale":{"domain":[2.912,6.927],"nice":false,"zero":false},"axis":{"orient":"bottom","values":[3,3.2,3.4,3.6,3.8,4,4.2,4.4,4.6,4.8,5,5.2,5.4,5.6,5.8,6,6.2,6.4,6.6,6.8],"labels":false,"tickSize":-3.5,"title":null}},
      "xError":{"field":"e"},
      "y":{"field":"y","type":"quantitative","scale":{"domain":[-0.0435,1.005],"nice":false,"zero":false},"axis":{"orient":"left","values":[0,0.05,0.1,0.15,0.2,0.25,0.3,0.35,0.4,0.45,0.5,0.55,0.6,0.65,0.7,0.75,0.8,0.85,0.9,0.95,1],"labels":false,"tickSize":-3.5,"title":null}}}},
    {"data":{"name":"c2pts"},"mark":{"type":"circle","color":"#000","size":36,"opacity":1},
     "encoding":{"x":{"field":"x","type":"quantitative","scale":{"domain":[2.912,6.927],"nice":false,"zero":false},"axis":{"orient":"bottom","values":[3,4,5,6],"labelExpr":"datum.value + ''","labelPadding":7,"title":"(Kₛ−[22 μm])","titlePadding":1}},
      "y":{"field":"y","type":"quantitative","scale":{"domain":[-0.0435,1.005],"nice":false,"zero":false},"axis":{"orient":"left","values":[0,0.2,0.4,0.6,0.8,1],"labels":false,"title":null}}}},
    {"data":{"values":[{"x":6.72,"y":0.076}]},"mark":{"type":"text","text":"(c₂)","align":"right","baseline":"middle","fontSize":18,"color":"#222"},
     "encoding":{"x":{"field":"x","type":"quantitative","scale":{"domain":[2.912,6.927],"nice":false,"zero":false},"axis":null},"y":{"field":"y","type":"quantitative","scale":{"domain":[-0.0435,1.005],"nice":false,"zero":false},"axis":null}}}
   ],
   "resolve":{"axis":{"x":"independent","y":"independent"}}},
  {"width":48,"height":193,"data":{"values":[]},"mark":"point","view":{"stroke":null}},
 {"width":181,"height":193,
  "encoding":{"x":{"field":"x","type":"quantitative","scale":{"domain":[-0.497,6.993],"nice":false,"zero":false},"axis":null},"y":{"field":"y","type":"quantitative","scale":{"domain":[-0.476,4.923],"nice":false,"zero":false},"axis":null}},
  "layer":[
   {"data":{"name":"dgrey"},"mark":{"type":"circle","color":"#999","size":3,"opacity":0.8},
    "encoding":{"x":{"field":"x","type":"quantitative","scale":{"domain":[-0.497,6.993],"nice":false,"zero":false},"axis":{"orient":"bottom","values":[0,2,4,6],"labelExpr":"datum.value + ''","labelPadding":7,"title":"(Kₛ−[22 μm])","titlePadding":1}},
     "y":{"field":"y","type":"quantitative","scale":{"domain":[-0.476,4.923],"nice":false,"zero":false},"axis":{"orient":"left","values":[0,1,2,3,4],"labelExpr":"datum.value + ''","labelPadding":15,"title":"(Kₛ−[12 μm])","titlePadding":1}}}},
   {"data":{"name":"dblack"},"mark":{"type":"circle","color":"#000","size":55,"opacity":1},
    "encoding":{"x":{"field":"x","type":"quantitative","scale":{"domain":[-0.497,6.993],"nice":false,"zero":false},"axis":{"orient":"bottom","values":[-0.5,0,0.5,1,1.5,2,2.5,3,3.5,4,4.5,5,5.5,6,6.5],"labels":false,"tickSize":-3.5,"title":null}},
     "y":{"field":"y","type":"quantitative","scale":{"domain":[-0.476,4.923],"nice":false,"zero":false},"axis":{"orient":"left","values":[-0.4,-0.2,0,0.2,0.4,0.6,0.8,1,1.2,1.4,1.6,1.8,2,2.2,2.4,2.6,2.8,3,3.2,3.4,3.6,3.8,4,4.2,4.4,4.6,4.8],"labels":false,"tickSize":-3.5,"title":null}}}},
   {"data":{"name":"dblue"},"mark":{"type":"point","shape":"M0,-1L0,1M-1,0L1,0M-0.7,-0.7L0.7,0.7M-0.7,0.7L0.7,-0.7","filled":false,"color":"#2a8cff","size":55,"strokeWidth":1.6,"opacity":1},
    "encoding":{"x":{"field":"x","type":"quantitative","scale":{"domain":[-0.497,6.993],"nice":false,"zero":false},"axis":{"orient":"top","values":[0,2,4,6],"labels":false,"title":null}},
     "y":{"field":"y","type":"quantitative","scale":{"domain":[-0.476,4.923],"nice":false,"zero":false},"axis":{"orient":"right","values":[0,1,2,3,4],"labels":false,"title":null}}}},
   {"data":{"name":"dorange"},"mark":{"type":"point","shape":"M0,-1L0.2245,-0.309L0.951,-0.309L0.363,0.118L0.588,0.809L0,0.382L-0.588,0.809L-0.363,0.118L-0.951,-0.309L-0.2245,-0.309Z","filled":false,"color":"#ffa030","size":80,"strokeWidth":1.3,"opacity":1},
    "encoding":{"x":{"field":"x","type":"quantitative","scale":{"domain":[-0.497,6.993],"nice":false,"zero":false},"axis":{"orient":"top","values":[-0.5,0,0.5,1,1.5,2,2.5,3,3.5,4,4.5,5,5.5,6,6.5],"labels":false,"tickSize":-3.5,"title":null}},
     "y":{"field":"y","type":"quantitative","scale":{"domain":[-0.476,4.923],"nice":false,"zero":false},"axis":{"orient":"right","values":[-0.4,-0.2,0,0.2,0.4,0.6,0.8,1,1.2,1.4,1.6,1.8,2,2.2,2.4,2.6,2.8,3,3.2,3.4,3.6,3.8,4,4.2,4.4,4.6,4.8],"labels":false,"tickSize":-3.5,"title":null}}}},
   {"data":{"name":"dmag"},"mark":{"type":"square","filled":false,"color":"#e020e0","size":40,"strokeWidth":1.5,"opacity":1}},
   {"data":{"values":[{"x":0.45,"y":4.62}]},"mark":{"type":"circle","color":"#000","size":18,"opacity":1}},
   {"data":{"values":[{"x":0.45,"y":4.31}]},"mark":{"type":"square","filled":false,"color":"#e020e0","size":14,"strokeWidth":1.2,"opacity":1}},
   {"data":{"values":[{"x":0.45,"y":3.99}]},"mark":{"type":"point","shape":"M0,-1L0,1M-1,0L1,0M-0.7,-0.7L0.7,0.7M-0.7,0.7L0.7,-0.7","filled":false,"color":"#2a8cff","size":22,"strokeWidth":1.4,"opacity":1}},
   {"data":{"values":[{"x":0.45,"y":3.66}]},"mark":{"type":"point","shape":"M0,-1L0.2245,-0.309L0.951,-0.309L0.363,0.118L0.588,0.809L0,0.382L-0.588,0.809L-0.363,0.118L-0.951,-0.309L-0.2245,-0.309Z","filled":false,"color":"#ffa030","size":28,"strokeWidth":1.2,"opacity":1}},
   {"data":{"values":[{"x":0.72,"y":4.62}]},"mark":{"type":"text","text":"This work","align":"left","baseline":"middle","fontSize":11,"color":"#111"}},
   {"data":{"values":[{"x":0.72,"y":4.31}]},"mark":{"type":"text","text":"Ansdell+2016","align":"left","baseline":"middle","fontSize":11,"color":"#e020e0"}},
   {"data":{"values":[{"x":0.72,"y":3.99}]},"mark":{"type":"text","text":"Bodman+2017","align":"left","baseline":"middle","fontSize":11,"color":"#2a8cff"}},
   {"data":{"values":[{"x":0.72,"y":3.66}]},"mark":{"type":"text","text":"Bredall+2020","align":"left","baseline":"middle","fontSize":11,"color":"#ffa030"}},
   {"data":{"values":[{"x":5.67,"y":0.14}]},"mark":{"type":"text","text":"(d)","align":"left","baseline":"middle","fontSize":18,"color":"#222"}},
   {"data":{"values":[{"x":-0.95,"y":5.23}]},"mark":{"type":"text","text":"⟵  NO DISK","align":"left","baseline":"middle","fontSize":12,"color":"#2a2aee"}},
   {"data":{"values":[{"x":4.88,"y":5.23}]},"mark":{"type":"text","text":"DISK  ⟶","align":"left","baseline":"middle","fontSize":12,"color":"#ee2a2a"}},
   {"data":{"values":[{"x":8.94,"y":4.755}]},"mark":{"type":"text","text":"FULL &\nTRANSITIONAL\nDISK","lineBreak":"\n","angle":90,"align":"left","baseline":"top","fontSize":11,"lineHeight":14.5,"color":"#ff3030"}},
   {"data":{"values":[{"x":8.94,"y":2.19}]},"mark":{"type":"text","text":"EVOLVED &\nDEBRIS\nDISK","lineBreak":"\n","angle":90,"align":"left","baseline":"top","fontSize":11,"lineHeight":14.5,"color":"#44cc44"}},
   {"data":{"values":[{"x":8.94,"y":0.11}]},"mark":{"type":"text","text":"NO\nDISK","lineBreak":"\n","angle":90,"align":"left","baseline":"top","fontSize":11,"lineHeight":14.5,"color":"#3030ff"}}
  ],
  "resolve":{"axis":{"x":"independent","y":"independent"}}}
]}
],
"config":{
 "font":"Liberation Serif",
 "view":{"stroke":"#333","strokeWidth":1},
 "axis":{"domain":false,"grid":false,"tickColor":"#333","tickWidth":1,"tickSize":-7,"labelFont":"Liberation Serif","labelFontSize":16,"labelColor":"#222","titleFont":"Liberation Serif","titleFontSize":20,"titleFontWeight":"normal","titleColor":"#222","labelFlush":false,"labelOverlap":false},
 "text":{"font":"Liberation Serif"}
}
}
